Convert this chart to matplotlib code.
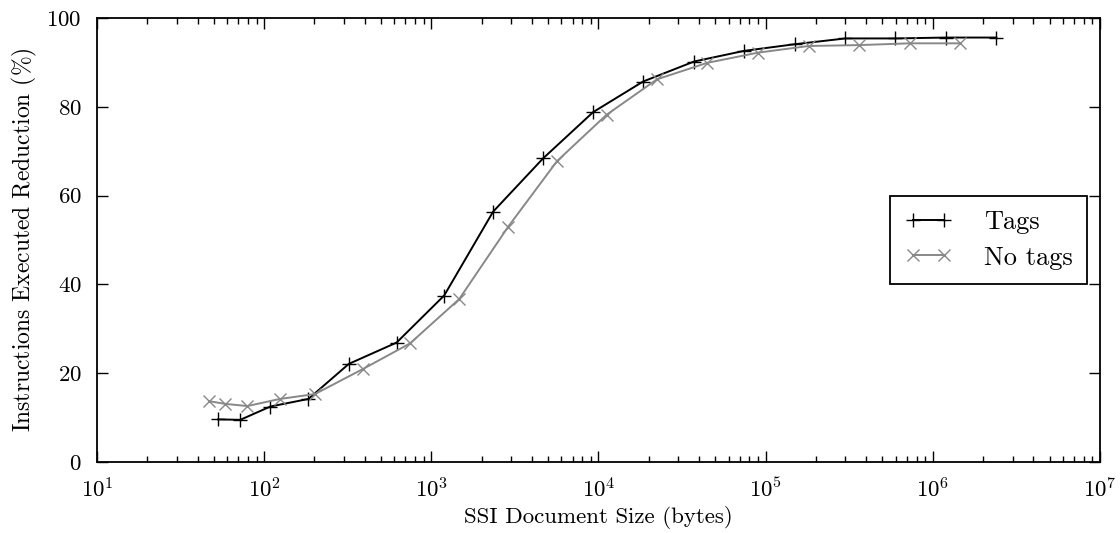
import numpy as np
import matplotlib
matplotlib.use("Agg")
import matplotlib.pyplot as plt
from matplotlib.ticker import LogLocator, MultipleLocator, NullFormatter

# Daten
tags_size = [53, 72, 109, 184, 321, 620, 1194, 2344, 4667, 9290, 18500,
             37300, 74300, 149600, 300000, 597000, 1.2e6, 2.4e6]
tags_red = [9.6, 9.5, 12.5, 14.2, 22.1, 26.9, 37.5, 56.4, 68.4, 78.8, 85.7,
            90.2, 92.6, 94.1, 95.4, 95.4, 95.6, 95.6]
notags_size = [46.8, 58.3, 79.3, 124, 201, 388, 745, 1469, 2884, 5660, 11170,
               22400, 44700, 90100, 181000, 362000, 728000, 1.45e6]
notags_red = [13.7, 13.1, 12.6, 14.2, 15.3, 20.9, 26.7, 36.7, 53.0, 67.8, 78.2,
              86.2, 89.9, 92.2, 93.7, 93.9, 94.3, 94.3]
x_ticks = [1e1, 1e2, 1e3, 1e4, 1e5, 1e6, 1e7]
y_ticks = [0, 20, 40, 60, 80, 100]

plt.rcParams['font.family'] = ['cmr10', 'DejaVu Serif']
plt.rcParams['mathtext.fontset'] = 'cm'
plt.rcParams['axes.formatter.use_mathtext'] = True
plt.rcParams['font.size'] = 16.5

fig = plt.figure(figsize=(11.2, 5.33), dpi=100)
ax = fig.add_axes([0.0866, 0.1332, 0.8955, 0.833])

ax.plot(tags_size, tags_red, color='black', lw=1.4, marker='+',
        markersize=10, markeredgewidth=1.0, label='Tags')
ax.plot(notags_size, notags_red, color='#888888', lw=1.4, marker='x',
        markersize=8, markeredgewidth=1.0, label='No tags')

ax.set_xscale('log')
ax.set_xlim(10, 1e7)
ax.set_ylim(0, 100)
ax.set_xticks(x_ticks)
ax.xaxis.set_minor_locator(LogLocator(base=10, subs=np.arange(2, 10), numticks=20))
ax.xaxis.set_minor_formatter(NullFormatter())
ax.set_yticks(y_ticks)

ax.tick_params(which='both', direction='in', top=True, right=True, width=1.0)
ax.tick_params(which='major', length=8, pad=11)
ax.tick_params(which='minor', length=4)
for s in ax.spines.values():
    s.set_linewidth(1.3)

ax.set_xlabel('SSI Document Size (bytes)', labelpad=3)
ax.set_ylabel(r'Instructions Executed Reduction ($\%$)', labelpad=5, fontsize=17)

leg = ax.legend(loc='center right', bbox_to_anchor=(0.987, 0.5), frameon=True,
                fancybox=False, framealpha=1, edgecolor='black', fontsize=19,
                numpoints=2, handlelength=1.78, handletextpad=1.2,
                labelspacing=0.45, borderpad=0.55, borderaxespad=0)
leg.get_frame().set_linewidth(1.3)

fig.savefig('out.png', dpi=100)
